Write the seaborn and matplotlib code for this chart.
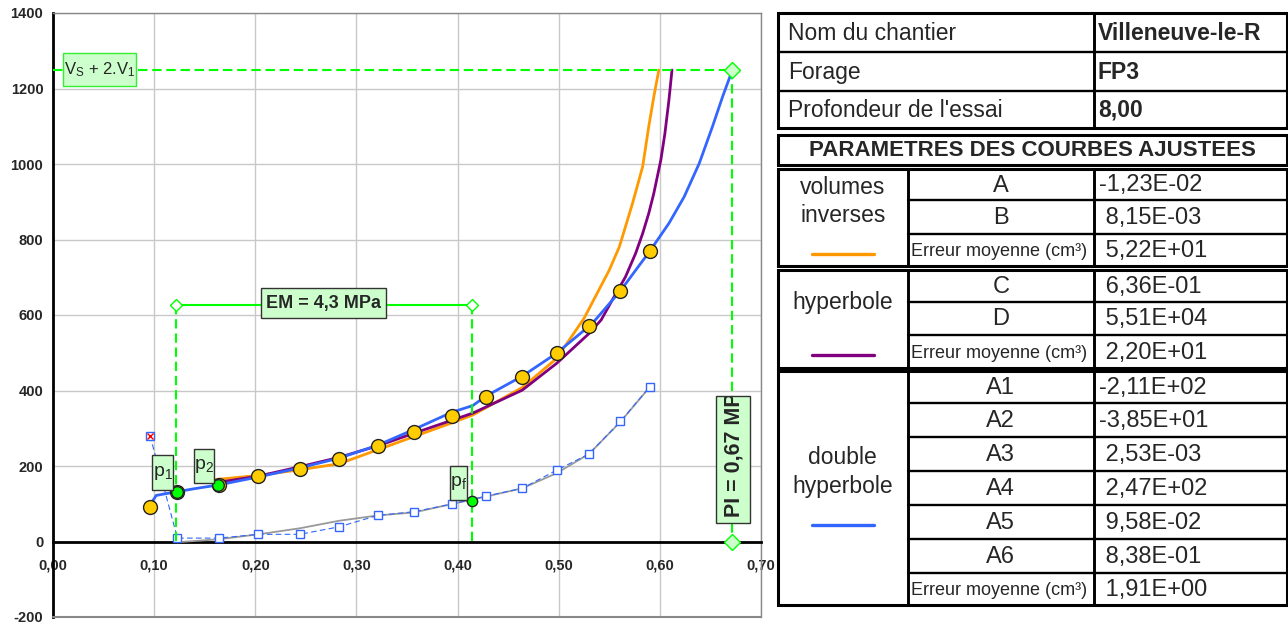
import numpy as np
import pandas as pd
import seaborn as sns
import matplotlib
matplotlib.use("Agg")
import matplotlib.pyplot as plt
from matplotlib.patches import Rectangle
from matplotlib.transforms import Bbox, TransformedBbox

# ---------------- data ----------------
pressure = [0.096, 0.123, 0.164, 0.203, 0.244, 0.283, 0.321, 0.357, 0.394, 0.428, 0.464, 0.498, 0.530, 0.561, 0.590]
volume = [91, 132, 150, 173, 193, 219, 252, 291, 333, 384, 437, 500, 572, 664, 769]
creep = [280, 9, 9, 19, 19, 39, 69, 79, 99, 120, 141, 189, 232, 318, 410]
creep_fit_p = [0.123, 0.164, 0.203, 0.244, 0.283, 0.321, 0.357, 0.394, 0.428, 0.464, 0.498, 0.530, 0.561, 0.590]
creep_fit_v = [-2, 6, 19, 35, 55, 69, 77, 99, 119, 141, 181, 232, 317, 409]

inv_p = [0.158, 0.164, 0.203, 0.244, 0.283, 0.321, 0.357, 0.395, 0.415, 0.464, 0.498, 0.525,
         0.550, 0.560, 0.566, 0.573, 0.583, 0.589, 0.594, 0.599]
inv_v = [163, 165, 175, 190, 206, 243, 278, 315, 335, 408, 485, 591,
         719, 781, 834, 896, 993, 1099, 1178, 1249]

hyp_p = [0.160, 0.164, 0.203, 0.244, 0.283, 0.323, 0.357, 0.415, 0.464, 0.498, 0.530, 0.542,
         0.553, 0.566, 0.576, 0.583, 0.589, 0.594, 0.601, 0.605, 0.609, 0.612]
hyp_v = [155, 157, 173, 198, 223, 255, 287, 340, 401, 472, 551, 587,
         640, 701, 763, 816, 869, 922, 1011, 1081, 1170, 1249]

dhyp_p = [0.098, 0.102, 0.110, 0.123, 0.140, 0.164, 0.203, 0.244, 0.283, 0.321, 0.357, 0.394, 0.415, 0.428,
          0.464, 0.498, 0.533, 0.561, 0.590, 0.609, 0.624, 0.639, 0.652, 0.662, 0.671]
dhyp_v = [105, 122, 126, 132, 140, 150, 171, 195, 221, 255, 297, 342, 360, 385,
          438, 499, 577, 664, 769, 843, 913, 1002, 1099, 1178, 1244]

p1_point = (0.1227, 132)
p2_point = (0.1636, 150)
pf_point = (0.4143, 106)
vs_2v1 = 1250
p_limit = 0.671
em_p1, em_p2 = 0.1221, 0.4143
em_level = 626

x_ticks = [0.0, 0.1, 0.2, 0.3, 0.4, 0.5, 0.6, 0.7]
x_labels = ["0,00", "0,10", "0,20", "0,30", "0,40", "0,50", "0,60", "0,70"]
y_ticks = [-200, 0, 200, 400, 600, 800, 1000, 1200, 1400]
y_labels = ["-200", "0", "200", "400", "600", "800", "1000", "1200", "1400"]

info_labels = ["Nom du chantier", "Forage", "Profondeur de l'essai"]
info_values = ["Villeneuve-le-R", "FP3", "8,00"]
table_title = "PARAMETRES DES COURBES AJUSTEES"
err_label = "Erreur moyenne (cm³)"
inv_params = ["A", "B", err_label]
inv_values = ["-1,23E-02", " 8,15E-03", " 5,22E+01"]
hyp_params = ["C", "D", err_label]
hyp_values = [" 6,36E-01", " 5,51E+04", " 2,20E+01"]
dh_params = ["A1", "A2", "A3", "A4", "A5", "A6", err_label]
dh_values = ["-2,11E+02", "-3,85E+01", " 2,53E-03", " 2,47E+02", " 9,58E-02", " 8,38E-01", " 1,91E+00"]

ORANGE = "#FF9900"
PURPLE = "#800080"
BLUE = "#3366FF"
GREEN = "#00FF00"
LGREEN = "#CCFFCC"
YELLOW = "#FFCC00"

# ---------------- style ----------------
sns.set_style("white")
plt.rcParams['font.family'] = ['Liberation Sans', 'DejaVu Sans']
plt.rcParams['mathtext.fontset'] = 'custom'
plt.rcParams['mathtext.rm'] = 'Liberation Sans'
plt.rcParams['mathtext.it'] = 'Liberation Sans:italic'
plt.rcParams['mathtext.bf'] = 'Liberation Sans:bold'

fig = plt.figure(figsize=(12.88, 6.26), dpi=100)
W, H = 1288, 626
ax = fig.add_axes([53 / W, (H - 617) / H, (761 - 53) / W, (617 - 13) / H])

dash = (0, (4.5, 2.3))

# creep curves
sns.lineplot(x=creep_fit_p, y=creep_fit_v, ax=ax, color="#999999", lw=1.3, estimator=None, sort=False, zorder=3)
sns.lineplot(x=pressure, y=creep, ax=ax, color=BLUE, lw=0.8, linestyle=(0, (5, 3)), marker="s",
             markersize=6, markerfacecolor="white", markeredgecolor=BLUE, markeredgewidth=1.0,
             estimator=None, sort=False, zorder=4)
ax.plot([pressure[0]], [creep[0]], marker="x", color="red", markersize=5, mew=1.0, zorder=5)

# fitted curves
sns.lineplot(x=inv_p, y=inv_v, ax=ax, color=ORANGE, lw=2.0, estimator=None, sort=False, zorder=5)
sns.lineplot(x=hyp_p, y=hyp_v, ax=ax, color=PURPLE, lw=2.0, estimator=None, sort=False, zorder=5)
sns.lineplot(x=dhyp_p, y=dhyp_v, ax=ax, color=BLUE, lw=2.0, estimator=None, sort=False, zorder=6)

# measured points
sns.scatterplot(x=pressure, y=volume, ax=ax, color=YELLOW, edgecolor="#222222", linewidth=1.0, s=100, zorder=7)
sns.scatterplot(x=[p1_point[0], p2_point[0]], y=[p1_point[1], p2_point[1]], ax=ax, color=GREEN,
                edgecolor="#222222", linewidth=1.0, s=70, zorder=8)
sns.scatterplot(x=[pf_point[0]], y=[pf_point[1]], ax=ax, color=GREEN, edgecolor="#222222",
                linewidth=1.0, s=55, zorder=8)

# construction lines
ax.plot([0, p_limit], [vs_2v1, vs_2v1], color=GREEN, lw=1.5, linestyle=dash, zorder=6)
ax.plot([p_limit, p_limit], [vs_2v1, 0], color=GREEN, lw=1.5, linestyle=dash, zorder=6)
ax.plot([p_limit, p_limit], [vs_2v1, 0], linestyle="none", marker="D", markersize=8,
        markerfacecolor=LGREEN, markeredgecolor=GREEN, mew=1.0, zorder=9, clip_on=False)
ax.plot([em_p1, em_p1], [em_level, 0], color=GREEN, lw=1.5, linestyle=dash, zorder=6)
ax.plot([em_p2, em_p2], [em_level, 0], color=GREEN, lw=1.5, linestyle=dash, zorder=6)
ax.plot([em_p1, em_p2], [em_level, em_level], color=GREEN, lw=1.5, marker="D", markersize=6,
        markerfacecolor="white", markeredgecolor=GREEN, mew=1.0, zorder=6)


def label_box(x0, x1, y0, y1, text, edge="#333333", bold=False, size=12, **kw):
    r = Rectangle((x0, y0), x1 - x0, y1 - y0, facecolor=LGREEN, edgecolor=edge, lw=1.0, zorder=10)
    ax.add_patch(r)
    t = ax.text((x0 + x1) / 2, (y0 + y1) / 2, text, ha="center", va="center", fontsize=size,
                fontweight="bold" if bold else "normal", zorder=11, **kw)
    return r, t


label_box(0.0102, 0.0818, 1206.6, 1294.8, r"V$_{\mathregular{S}}$ + 2.V$_{\mathregular{1}}$", edge="#33EE33", size=12)
label_box(0.2053, 0.3294, 591.3, 670.7, "EM = 4,3 MPa", bold=True, size=13)
label_box(0.098, 0.1188, 136.4, 229, r"p$_{\mathregular{1}}$", size=14)
label_box(0.1392, 0.1589, 154.2, 244.2, r"p$_{\mathregular{2}}$", size=14)
label_box(0.3929, 0.4097, 110, 200, r"p$_{\mathregular{f}}$", size=14)

# PI label (text clipped by its box)
pi_x0, pi_x1, pi_y0, pi_y1 = 0.6552, 0.6888, 49.8, 385.4
ax.add_patch(Rectangle((pi_x0, pi_y0), pi_x1 - pi_x0, pi_y1 - pi_y0, facecolor=LGREEN,
                       edgecolor="#333333", lw=1.0, zorder=10))
pt = ax.text((pi_x0 + pi_x1) / 2 + 0.001, 66, "PI = 0,67 MPa", rotation=90, rotation_mode="anchor",
             ha="left", va="center", fontsize=15.5, fontweight="bold", zorder=11)
pt.set_clip_on(True)
pt.set_clip_box(TransformedBbox(Bbox([[pi_x0, pi_y0], [pi_x1, pi_y1 - 2]]), ax.transData))

# axes formatting (after seaborn calls; spine position first since it resets ticks)
ax.spines["bottom"].set_position(("data", 0))
ax.set_xlim(0, 0.70)
ax.set_ylim(-200, 1400)
ax.set_xlabel("")
ax.set_ylabel("")
ax.tick_params(axis="both", direction="out", length=4, width=1.2, color="black", pad=3)
ax.tick_params(axis="x", pad=8)
ax.set_xticks(x_ticks)
ax.set_xticklabels(x_labels, fontweight="bold", fontsize=10.5)
ax.set_yticks(y_ticks)
ax.set_yticklabels(y_labels, fontweight="bold", fontsize=10.5)
ax.grid(True, color="#c8c8c8", lw=1.0)
ax.set_axisbelow(True)
for s in ["top", "right"]:
    ax.spines[s].set_color("#888888")
    ax.spines[s].set_linewidth(1.0)
ax.spines["left"].set_color("black")
ax.spines["left"].set_linewidth(2.0)
ax.spines["bottom"].set_color("black")
ax.spines["bottom"].set_linewidth(2.0)
ax.axhline(-200, color="#888888", lw=1.5, clip_on=False, zorder=3)

# ---------------- table ----------------
tab = fig.add_axes([0, 0, 1, 1], facecolor="none")
tab.set_xlim(0, W)
tab.set_ylim(H, 0)
tab.axis("off")

L, R = 777.7, 1286.7
C1, C2 = 907.7, 1094
OUT = 2.2
INN = 1.7


def box(y0, y1):
    tab.add_patch(Rectangle((L, y0), R - L, y1 - y0, fill=False, edgecolor="black", lw=OUT, zorder=5))


def hline(y, x0=L, x1=R):
    tab.plot([x0, x1], [y, y], color="black", lw=INN, zorder=4)


def vline(x, y0, y1):
    tab.plot([x, x], [y0, y1], color="black", lw=INN + 0.4, zorder=4)


VAL_FS = 17
LAB_FS = 16.5
ERR_FS = 13

# section 1
rows1 = [12.7, 51.7, 90.7, 128.3]
box(rows1[0], rows1[-1])
for y in rows1[1:-1]:
    hline(y)
vline(C2, rows1[0], rows1[-1])
for i, (lab, val) in enumerate(zip(info_labels, info_values)):
    yc = (rows1[i] + rows1[i + 1]) / 2 + 1
    tab.text(788, yc, lab, ha="left", va="center", fontsize=LAB_FS)
    tab.text(1098, yc, val, ha="left", va="center", fontsize=LAB_FS, fontweight="bold")

# section 2
box(135, 165)
tab.text((L + R) / 2, 151, table_title, ha="center", va="center", fontsize=16, fontweight="bold")


def param_section(rows, params, values, names, name_y, line_y, color):
    box(rows[0], rows[-1])
    for y in rows[1:-1]:
        hline(y, C1, R)
    vline(C1, rows[0], rows[-1])
    vline(C2, rows[0], rows[-1])
    for i, (p, v) in enumerate(zip(params, values)):
        yc = (rows[i] + rows[i + 1]) / 2 + 1
        if p.startswith("Erreur"):
            tab.text(C1 + 3, yc + 1, p, ha="left", va="center", fontsize=ERR_FS)
        else:
            tab.text((C1 + C2) / 2, yc, p, ha="center", va="center", fontsize=VAL_FS)
        tab.text(C2 + 5, yc, v, ha="left", va="center", fontsize=VAL_FS)
    for n, y in zip(names, name_y):
        tab.text((L + C1) / 2, y, n, ha="center", va="center", fontsize=LAB_FS)
    tab.plot([811.7, 874], [line_y, line_y], color=color, lw=2.4, zorder=4)


param_section([169, 200, 234, 265.7], inv_params, inv_values, ["volumes", "inverses"], [187, 215], 254, ORANGE)
param_section([270, 301.7, 335, 368], hyp_params, hyp_values, ["hyperbole"], [303], 355, PURPLE)
param_section([371, 403.3, 437.3, 471, 505, 538.7, 572.7, 605], dh_params, dh_values,
              ["double", "hyperbole"], [457, 486], 525.3, BLUE)

fig.savefig("out.png", dpi=100, facecolor="white")
